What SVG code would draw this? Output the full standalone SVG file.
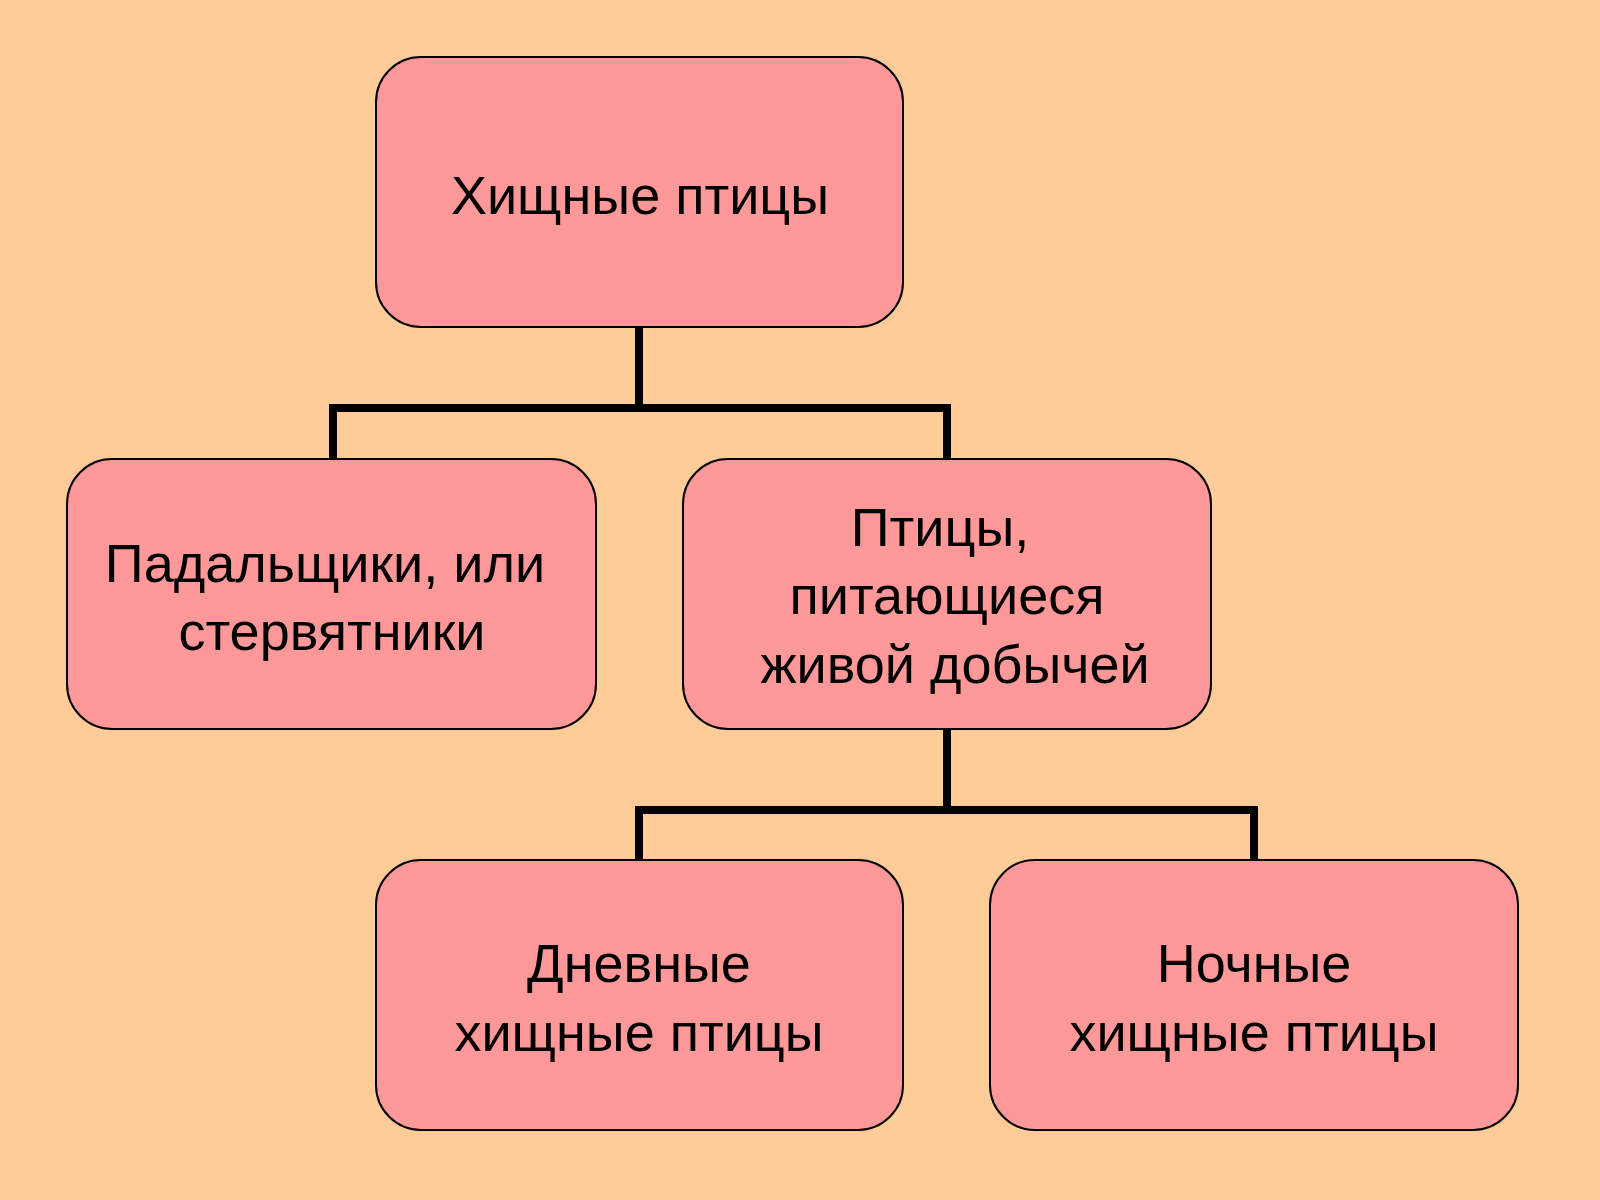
<svg xmlns="http://www.w3.org/2000/svg" width="1600" height="1200" viewBox="0 0 1600 1200">
<style>
.box{fill:#FF9999;stroke:#000;stroke-width:2}
.t{font-family:"Liberation Sans",Arial,sans-serif;font-size:54px;fill:#000;text-anchor:middle}
.c{fill:none;stroke:#000;stroke-width:8}
</style>
<rect width="1600" height="1200" fill="#FFCC99"/>
<g id="connectors">
<path class="c" d="M639 327V408M333 459V408H947V459"/>
<path class="c" d="M947 729V810M639 860V810H1254V860"/>
</g>
<g id="root"><rect class="box" x="376" y="57" width="527" height="270" rx="45"/><text class="t" x="640" y="214">Хищные птицы</text></g>
<g id="scavengers"><rect class="box" x="67" y="459" width="529" height="270" rx="45"/><text class="t" x="325" y="582">Падальщики, или</text><text class="t" x="332" y="650">стервятники</text></g>
<g id="live"><rect class="box" x="683" y="459" width="528" height="270" rx="45"/><text class="t" x="940" y="546">Птицы,</text><text class="t" x="947" y="614">питающиеся</text><text class="t" x="955" y="683">живой добычей</text></g>
<g id="day"><rect class="box" x="376" y="860" width="527" height="270" rx="45"/><text class="t" x="639" y="982">Дневные</text><text class="t" x="639" y="1051">хищные птицы</text></g>
<g id="night"><rect class="box" x="990" y="860" width="528" height="270" rx="45"/><text class="t" x="1254" y="982">Ночные</text><text class="t" x="1254" y="1051">хищные птицы</text></g>
</svg>
